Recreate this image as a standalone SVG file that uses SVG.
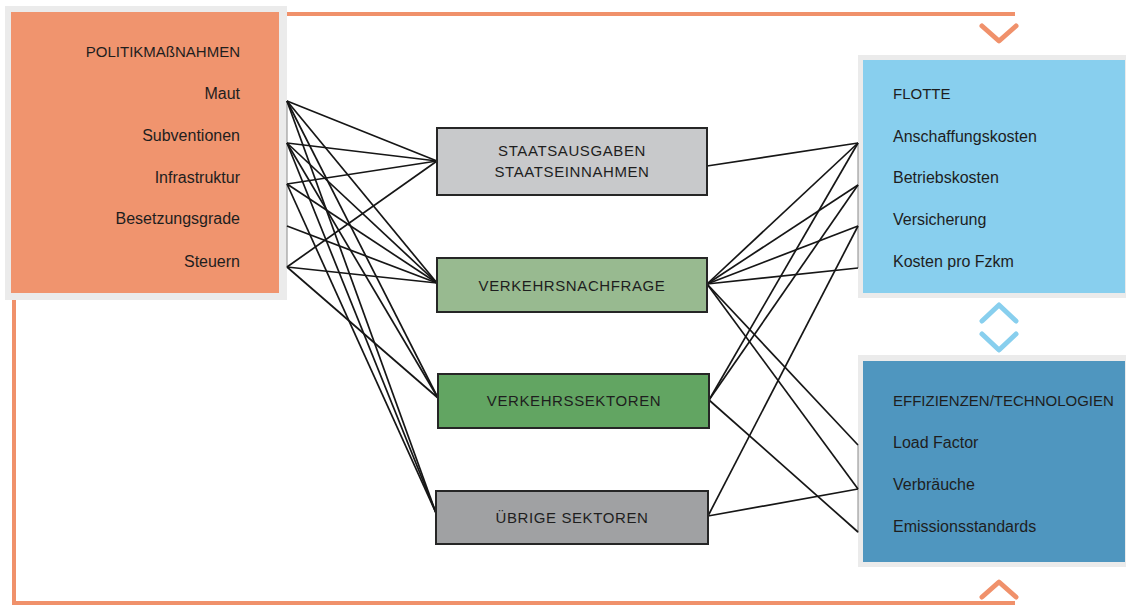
<svg xmlns="http://www.w3.org/2000/svg" width="1126" height="606" viewBox="0 0 1126 606">
<defs>
<style>
.frame{fill:#ebebeb}
.hdr{font-family:"Liberation Sans",Arial,sans-serif;font-size:15px;fill:#1e1e1e}
.itm{font-family:"Liberation Sans",Arial,sans-serif;font-size:16px;fill:#1e1e1e}
.box{stroke:#262626;stroke-width:2}
.btx{font-family:"Liberation Sans",Arial,sans-serif;font-size:15px;fill:#1e1e1e;letter-spacing:0.6px;text-anchor:middle}
.or{fill:none;stroke:#f0916b;stroke-width:4}
.chev{fill:none;stroke-width:5;stroke-linecap:round;stroke-linejoin:round}
.cn line{stroke:#161616;stroke-width:1.7}
.brk{stroke:#8a8a8a;stroke-width:1}
</style>
</defs>
<rect width="1126" height="606" fill="#ffffff"/>

<!-- feedback loop (orange) -->
<g id="feedback-loop">
<polyline class="or" points="279,14 1015,14"/>
<polyline class="or" points="14,290 14,603 1015,603"/>
<polyline class="chev" stroke="#f0916b" points="982,26 999,41 1016,26"/>
<polyline class="chev" stroke="#f0916b" points="982,597 999,582 1016,597"/>
</g>

<!-- Politikmassnahmen -->
<g id="politik">
<rect class="frame" x="5" y="6" width="282" height="294"/>
<rect x="11" y="12" width="268" height="281" fill="#f0946e"/>
<text class="hdr" x="240" y="57" text-anchor="end">POLITIKMAßNAHMEN</text>
<text class="itm" x="240" y="99" text-anchor="end">Maut</text>
<text class="itm" x="240" y="141" text-anchor="end">Subventionen</text>
<text class="itm" x="240" y="183" text-anchor="end">Infrastruktur</text>
<text class="itm" x="240" y="224" text-anchor="end">Besetzungsgrade</text>
<text class="itm" x="240" y="267" text-anchor="end">Steuern</text>
<line class="brk" x1="287" y1="101" x2="287" y2="267"/>
</g>

<!-- Flotte -->
<g id="flotte">
<rect class="frame" x="858" y="55" width="280" height="243"/>
<rect x="863" y="60" width="262" height="233" fill="#88cfee"/>
<text class="hdr" x="893" y="99">FLOTTE</text>
<text class="itm" x="893" y="142">Anschaffungskosten</text>
<text class="itm" x="893" y="183">Betriebskosten</text>
<text class="itm" x="893" y="225">Versicherung</text>
<text class="itm" x="893" y="267">Kosten pro Fzkm</text>
<line class="brk" x1="858" y1="143" x2="858" y2="268"/>
</g>

<!-- link between Flotte and Effizienzen -->
<g id="flotte-effizienz-link">
<polyline class="chev" stroke="#88cfee" points="982,321 999,305 1016,321"/>
<polyline class="chev" stroke="#88cfee" points="982,334 999,350 1016,334"/>
</g>

<!-- Effizienzen/Technologien -->
<g id="effizienzen">
<rect class="frame" x="858" y="355" width="280" height="212"/>
<rect x="863" y="361" width="262" height="201" fill="#4f96bf"/>
<text class="hdr" x="893" y="406">EFFIZIENZEN/TECHNOLOGIEN</text>
<text class="itm" x="893" y="448">Load Factor</text>
<text class="itm" x="893" y="490">Verbräuche</text>
<text class="itm" x="893" y="532">Emissionsstandards</text>
<line class="brk" x1="858" y1="445" x2="858" y2="533"/>
</g>

<!-- connectors -->
<g id="connectors" class="cn">
<!-- left side -->
<line x1="287" y1="101" x2="437" y2="161"/>
<line x1="287" y1="101" x2="437" y2="283"/>
<line x1="287" y1="101" x2="438" y2="398"/>
<line x1="287" y1="101" x2="436" y2="513"/>
<line x1="287" y1="143" x2="437" y2="161"/>
<line x1="287" y1="143" x2="437" y2="283"/>
<line x1="287" y1="143" x2="438" y2="398"/>
<line x1="287" y1="143" x2="436" y2="513"/>
<line x1="287" y1="184" x2="437" y2="161"/>
<line x1="287" y1="184" x2="437" y2="283"/>
<line x1="287" y1="184" x2="436" y2="513"/>
<line x1="287" y1="226" x2="437" y2="283"/>
<line x1="287" y1="267" x2="437" y2="161"/>
<line x1="287" y1="267" x2="437" y2="283"/>
<line x1="287" y1="267" x2="438" y2="398"/>
<!-- right side -->
<line x1="707" y1="166" x2="858" y2="143"/>
<line x1="707" y1="284" x2="858" y2="143"/>
<line x1="707" y1="284" x2="858" y2="185"/>
<line x1="707" y1="284" x2="858" y2="226"/>
<line x1="707" y1="284" x2="858" y2="268"/>
<line x1="707" y1="284" x2="858" y2="445"/>
<line x1="707" y1="284" x2="858" y2="489"/>
<line x1="709" y1="400" x2="858" y2="143"/>
<line x1="709" y1="400" x2="858" y2="185"/>
<line x1="709" y1="400" x2="858" y2="532"/>
<line x1="708" y1="516" x2="858" y2="226"/>
<line x1="708" y1="516" x2="858" y2="489"/>
</g>

<!-- center nodes -->
<g id="staatsausgaben">
<rect class="box" x="437" y="128" width="270" height="67" fill="#c8c9cb"/>
<text class="btx" x="572" y="156">STAATSAUSGABEN</text>
<text class="btx" x="572" y="177">STAATSEINNAHMEN</text>
</g>
<g id="verkehrsnachfrage">
<rect class="box" x="437" y="258" width="270" height="54" fill="#98ba90"/>
<text class="btx" x="572" y="291">VERKEHRSNACHFRAGE</text>
</g>
<g id="verkehrssektoren">
<rect class="box" x="438" y="374" width="271" height="54" fill="#62a562"/>
<text class="btx" x="574" y="406">VERKEHRSSEKTOREN</text>
</g>
<g id="uebrige-sektoren">
<rect class="box" x="436" y="491" width="272" height="53" fill="#a0a1a3"/>
<text class="btx" x="572" y="523">ÜBRIGE SEKTOREN</text>
</g>
</svg>
